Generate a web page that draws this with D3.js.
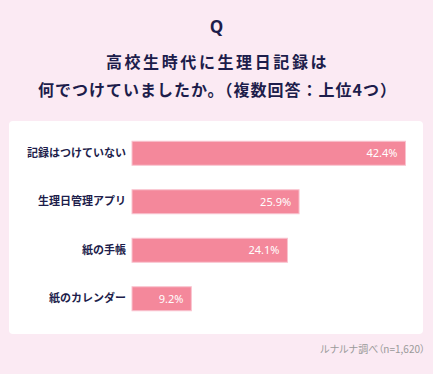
<!DOCTYPE html>
<html>
<head>
<meta charset="utf-8">
<script src="https://cdn.jsdelivr.net/npm/d3@7"></script>
<style>
  body { margin: 0; background: #fbeaf3; }
  svg { display: block; font-family: "Noto Sans CJK JP", "Noto Sans", sans-serif; }
</style>
</head>
<body>
<svg id="chart" width="433" height="374"></svg>
<script>
var categories = ["記録はつけていない", "生理日管理アプリ", "紙の手帳", "紙のカレンダー"];
var values = [42.4, 25.9, 24.1, 9.2];
var titleLines = ["Q", "高校生時代に生理日記録は", "何でつけていましたか。（複数回答：上位4つ）"];
var sourceNote = "ルナルナ調べ（n=1,620）";

var drawBarChart = function() {
  let svg = d3.select("#chart");
  let width = 433, height = 374;
  let navy = "#1d1d4b";

  // background
  svg.append("rect")
    .attr("width", width).attr("height", height)
    .attr("fill", "#fbeaf3");

  // Title
  svg.append("text")
    .text(titleLines[0])
    .attr("x", width / 2).attr("y", 33)
    .attr("text-anchor", "middle")
    .style("font-family", "'Open Sans', sans-serif")
    .style("font-size", "17px").style("font-weight", "700")
    .style("fill", navy);

  svg.append("text")
    .text(titleLines[1])
    .attr("x", width / 2 + 1).attr("y", 68)
    .attr("text-anchor", "middle")
    .style("font-size", "16px").style("font-weight", "700")
    .style("letter-spacing", "2.6px")
    .style("fill", navy);

  svg.append("text")
    .text(titleLines[2])
    .attr("x", width / 2 + 1).attr("y", 96)
    .attr("text-anchor", "middle")
    .style("font-size", "16px").style("font-weight", "700")
    .style("letter-spacing", "1px")
    .style("fill", navy);

  // white panel
  svg.append("rect")
    .attr("x", 9).attr("y", 121)
    .attr("width", 414).attr("height", 213)
    .attr("rx", 4)
    .attr("fill", "#ffffff");

  let margin = { top: 141, left: 132 };

  let x = d3.scaleLinear()
    .domain([0, 42.4])
    .range([margin.left, 405.5]);

  let y = d3.scaleBand()
    .domain(categories)
    .range([margin.top - 12, margin.top - 12 + 48.5 * categories.length])
    .paddingInner(0.505)
    .paddingOuter(0.2525);

  let yAxis = d3.axisLeft(y).tickSize(0).tickPadding(6);
  let yGroup = svg.append("g")
    .attr("transform", "translate(" + margin.left + ",0)")
    .call(yAxis);
  yGroup.select(".domain").remove();
  yGroup.selectAll("text")
    .style("font-family", "'Noto Sans CJK JP', sans-serif")
    .style("font-size", "11px")
    .style("font-weight", "700")
    .style("fill", navy);

  let plot = svg.append("g").attr("id", "plot");

  plot.selectAll("rect.bar")
    .data(values)
    .enter().append("rect")
    .attr("class", "bar")
    .attr("x", x(0))
    .attr("y", (d, i) => y(categories[i]))
    .attr("width", (d) => x(d) - x(0))
    .attr("height", y.bandwidth())
    .attr("fill", "#f4889b")
    .attr("stroke", "#f9c3cf")
    .attr("stroke-width", 1);

  plot.selectAll("text.val")
    .data(values)
    .enter().append("text")
    .attr("class", "val")
    .text((d) => d + "%")
    .attr("x", (d) => x(d) - 8)
    .attr("y", (d, i) => y(categories[i]) + y.bandwidth() / 2)
    .attr("dy", "0.35em")
    .attr("text-anchor", "end")
    .style("font-family", "'Noto Sans', sans-serif")
    .style("font-size", "11px")
    .style("fill", "#ffffff");

  // caption
  svg.append("text")
    .text(sourceNote)
    .attr("x", 425).attr("y", 353)
    .attr("text-anchor", "end")
    .style("font-size", "10px")
    .style("font-feature-settings", "'palt'")
    .style("fill", "#9a9a9a");
}

drawBarChart();
</script>
</body>
</html>
